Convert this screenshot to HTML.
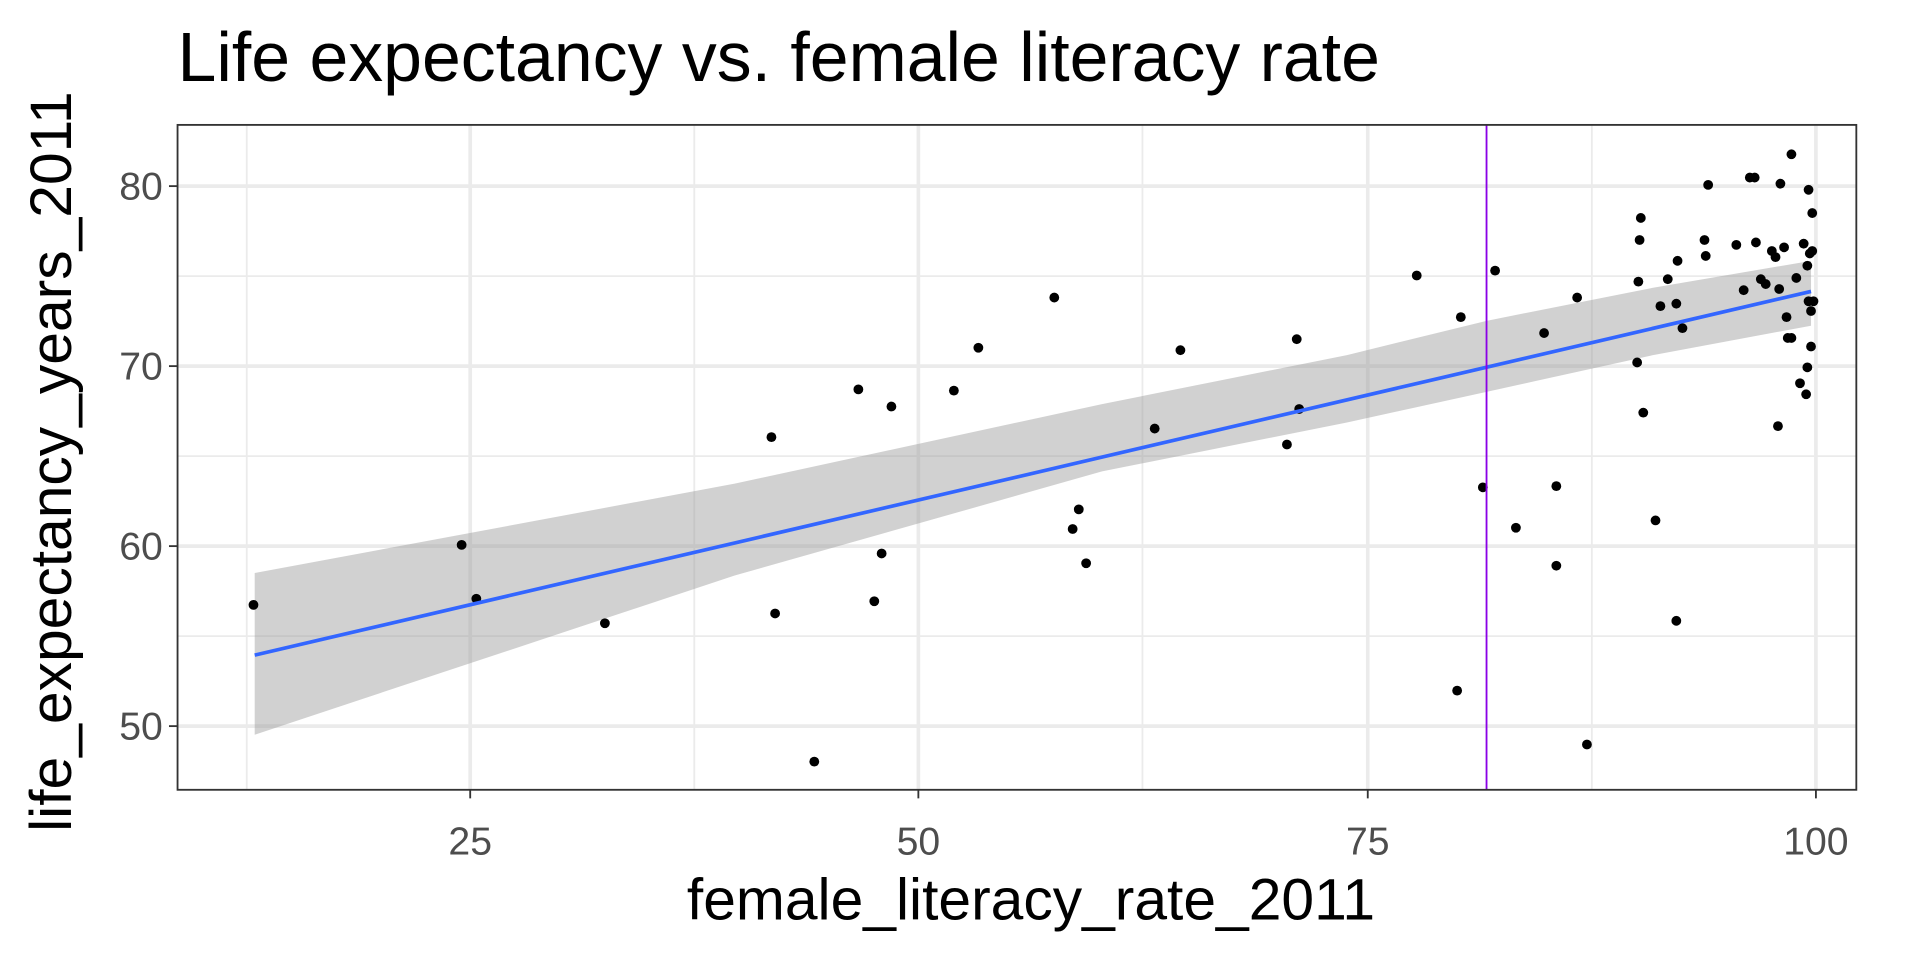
<!DOCTYPE html>
<html><head><style>body{margin:0;background:#fff}svg{display:block}</style></head>
<body>
<svg width="1920" height="960" viewBox="0 0 1568 784" xmlns="http://www.w3.org/2000/svg" font-family="Liberation Sans, sans-serif">
<rect width="1568" height="784" fill="#fff"/>
<text x="145" y="66" font-size="57" fill="#000">Life expectancy vs. female literacy rate</text>
<g stroke="#ebebeb" stroke-width="1.5">
<line x1="201.5" y1="102" x2="201.5" y2="645"/><line x1="567" y1="102" x2="567" y2="645"/><line x1="933" y1="102" x2="933" y2="645"/><line x1="1300" y1="102" x2="1300" y2="645"/>
<line x1="145" y1="225.5" x2="1516" y2="225.5"/><line x1="145" y1="372.5" x2="1516" y2="372.5"/><line x1="145" y1="519.5" x2="1516" y2="519.5"/>
</g>
<g stroke="#ebebeb" stroke-width="3">
<line x1="384" y1="102" x2="384" y2="645"/><line x1="750" y1="102" x2="750" y2="645"/><line x1="1117" y1="102" x2="1117" y2="645"/><line x1="1483" y1="102" x2="1483" y2="645"/>
<line x1="145" y1="152" x2="1516" y2="152"/><line x1="145" y1="299" x2="1516" y2="299"/><line x1="145" y1="446" x2="1516" y2="446"/><line x1="145" y1="593" x2="1516" y2="593"/>
</g>
<polygon fill="#999" fill-opacity="0.45" points="208,468 600,395 900,330 1100,290 1214,262 1350,235 1479,213 1479,266 1350,290 1214,320 1100,345 900,385 600,470 208,600"/>
<g fill="#000">
<circle cx="207" cy="494" r="4"/><circle cx="377" cy="445" r="4"/><circle cx="389" cy="489" r="4"/><circle cx="494" cy="509" r="4"/><circle cx="630" cy="357" r="4"/><circle cx="633" cy="501" r="4"/><circle cx="665" cy="622" r="4"/><circle cx="701" cy="318" r="4"/><circle cx="714" cy="491" r="4"/><circle cx="720" cy="452" r="4"/><circle cx="728" cy="332" r="4"/><circle cx="779" cy="319" r="4"/><circle cx="799" cy="284" r="4"/><circle cx="861" cy="243" r="4"/><circle cx="876" cy="432" r="4"/><circle cx="881" cy="416" r="4"/><circle cx="887" cy="460" r="4"/><circle cx="943" cy="350" r="4"/><circle cx="964" cy="286" r="4"/><circle cx="1051" cy="363" r="4"/><circle cx="1059" cy="277" r="4"/><circle cx="1061" cy="334" r="4"/><circle cx="1157" cy="225" r="4"/><circle cx="1190" cy="564" r="4"/><circle cx="1193" cy="259" r="4"/><circle cx="1211" cy="398" r="4"/><circle cx="1221" cy="221" r="4"/><circle cx="1238" cy="431" r="4"/><circle cx="1261" cy="272" r="4"/><circle cx="1271" cy="397" r="4"/><circle cx="1271" cy="462" r="4"/><circle cx="1288" cy="243" r="4"/><circle cx="1296" cy="608" r="4"/><circle cx="1338" cy="230" r="4"/><circle cx="1339" cy="196" r="4"/><circle cx="1340" cy="178" r="4"/><circle cx="1337" cy="296" r="4"/><circle cx="1342" cy="337" r="4"/><circle cx="1352" cy="425" r="4"/><circle cx="1356" cy="250" r="4"/><circle cx="1362" cy="228" r="4"/><circle cx="1369" cy="248" r="4"/><circle cx="1369" cy="507" r="4"/><circle cx="1370" cy="213" r="4"/><circle cx="1374" cy="268" r="4"/><circle cx="1392" cy="196" r="4"/><circle cx="1393" cy="209" r="4"/><circle cx="1395" cy="151" r="4"/><circle cx="1418" cy="200" r="4"/><circle cx="1424" cy="237" r="4"/><circle cx="1429" cy="145" r="4"/><circle cx="1433" cy="145" r="4"/><circle cx="1434" cy="198" r="4"/><circle cx="1438" cy="228" r="4"/><circle cx="1442" cy="232" r="4"/><circle cx="1447" cy="205" r="4"/><circle cx="1450" cy="210" r="4"/><circle cx="1452" cy="348" r="4"/><circle cx="1453" cy="236" r="4"/><circle cx="1454" cy="150" r="4"/><circle cx="1457" cy="202" r="4"/><circle cx="1459" cy="259" r="4"/><circle cx="1460" cy="276" r="4"/><circle cx="1463" cy="276" r="4"/><circle cx="1463" cy="126" r="4"/><circle cx="1467" cy="227" r="4"/><circle cx="1470" cy="313" r="4"/><circle cx="1473" cy="199" r="4"/><circle cx="1475" cy="322" r="4"/><circle cx="1476" cy="217" r="4"/><circle cx="1476" cy="300" r="4"/><circle cx="1477" cy="246" r="4"/><circle cx="1477" cy="155" r="4"/><circle cx="1478" cy="207" r="4"/><circle cx="1479" cy="283" r="4"/><circle cx="1479" cy="254" r="4"/><circle cx="1480" cy="174" r="4"/><circle cx="1480" cy="205" r="4"/><circle cx="1481" cy="246" r="4"/>
</g>
<line x1="208" y1="535" x2="1479" y2="238" stroke="#3366ff" stroke-width="3"/>
<line x1="1214" y1="102" x2="1214" y2="645" stroke="#8a00e6" stroke-width="1.5"/>
<rect x="145" y="102" width="1371" height="543" fill="none" stroke="#333" stroke-width="1.5"/>
<g stroke="#333" stroke-width="1.5">
<line x1="384" y1="645" x2="384" y2="652"/><line x1="750" y1="645" x2="750" y2="652"/><line x1="1117" y1="645" x2="1117" y2="652"/><line x1="1483" y1="645" x2="1483" y2="652"/>
<line x1="138" y1="152" x2="145" y2="152"/><line x1="138" y1="299" x2="145" y2="299"/><line x1="138" y1="446" x2="145" y2="446"/><line x1="138" y1="593" x2="145" y2="593"/>
</g>
<g fill="#4d4d4d" font-size="32">
<text x="384" y="698" text-anchor="middle">25</text><text x="750" y="698" text-anchor="middle">50</text><text x="1117" y="698" text-anchor="middle">75</text><text x="1483" y="698" text-anchor="middle">100</text>
<text x="133" y="163" text-anchor="end">80</text><text x="133" y="310" text-anchor="end">70</text><text x="133" y="457" text-anchor="end">60</text><text x="133" y="604" text-anchor="end">50</text>
</g>
<text x="842" y="751" font-size="48" text-anchor="middle" fill="#000">female_literacy_rate_2011</text>
<text transform="translate(58,377) rotate(-90)" font-size="48" text-anchor="middle" fill="#000">life_expectancy_years_2011</text>
</svg>
</body></html>
